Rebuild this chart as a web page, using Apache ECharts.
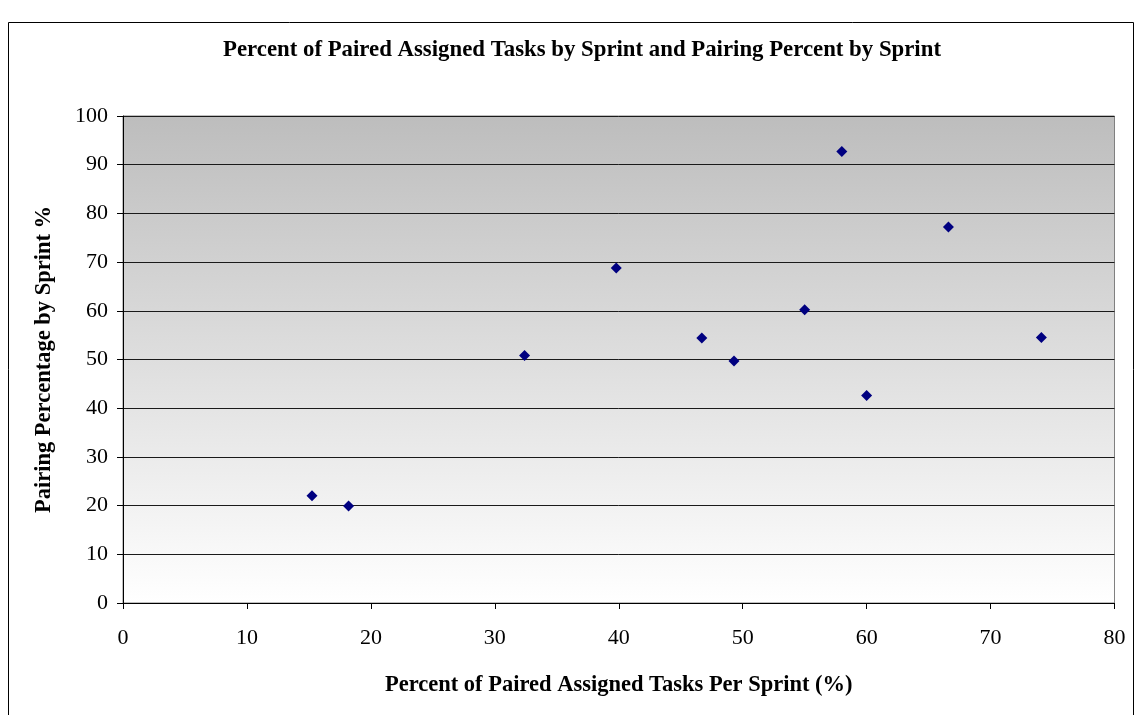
<!DOCTYPE html>
<html><head><meta charset="utf-8">
<script src="https://cdn.jsdelivr.net/npm/echarts@6/dist/echarts.min.js"></script>
<style>html,body{margin:0;padding:0;background:#fff}#c{width:1135px;height:715px}</style>
</head><body><div id="c"></div>
<script>
const xValues = [15.25, 18.2, 32.4, 39.8, 46.7, 49.3, 55.0, 58.0, 60.0, 66.6, 74.1];
const yValues = [22.0, 19.9, 50.8, 68.8, 54.4, 49.7, 60.2, 92.7, 42.6, 77.2, 54.5];
const titleText = 'Percent of Paired Assigned Tasks by Sprint and Pairing Percent by Sprint';
const xName = 'Percent of Paired Assigned Tasks Per Sprint (%)';
const yName = 'Pairing Percentage by Sprint %';

const font = '"Liberation Serif", "Times New Roman", serif';
const chart = echarts.init(document.getElementById('c'), null, {renderer: 'canvas'});
chart.setOption({
  animation: false,
  backgroundColor: '#fff',
  graphic: [
    {type: 'rect', shape: {x: 8.5, y: 22.5, width: 1125, height: 700}, style: {fill: 'none', stroke: '#000', lineWidth: 1}, z: -10},
    {type: 'rect', shape: {x: 123, y: 116, width: 991.5, height: 487}, style: {
      fill: new echarts.graphic.LinearGradient(0, 0, 0, 1, [{offset: 0, color: '#bdbdbd'}, {offset: 1, color: '#ffffff'}]),
      stroke: '#808080', lineWidth: 1}, z: -5}
  ],
  title: {
    text: titleText, left: 577, top: 34, textAlign: 'center',
    textStyle: {fontFamily: font, fontSize: 22.8, fontWeight: 'bold', color: '#000'}
  },
  grid: {left: 123, right: 20.5, top: 116, bottom: 112, containLabel: false},
  xAxis: {
    type: 'value', min: 0, max: 80, interval: 10,
    name: xName, nameLocation: 'middle', nameGap: 71,
    nameTextStyle: {fontFamily: font, fontSize: 22.5, fontWeight: 'bold', color: '#000'},
    axisLine: {show: true, lineStyle: {color: '#000', width: 1}},
    axisTick: {show: true, inside: false, length: 6, lineStyle: {color: '#000'}},
    axisLabel: {fontFamily: font, fontSize: 22, color: '#000', margin: 24},
    splitLine: {show: false}
  },
  yAxis: {
    type: 'value', min: 0, max: 100, interval: 10,
    name: yName, nameLocation: 'middle', nameGap: 67, nameRotate: 90,
    nameTextStyle: {fontFamily: font, fontSize: 22.5, fontWeight: 'bold', color: '#000'},
    axisLine: {show: true, lineStyle: {color: '#000', width: 1}},
    axisTick: {show: true, inside: false, length: 6, lineStyle: {color: '#000'}},
    axisLabel: {fontFamily: font, fontSize: 22, color: '#000', margin: 15},
    splitLine: {show: true, lineStyle: {color: '#1a1a1a', width: 1}}
  },
  series: [{
    type: 'scatter',
    symbol: 'diamond',
    symbolSize: 11,
    itemStyle: {color: '#000080', opacity: 1},
    data: xValues.map((x, i) => [x, yValues[i]])
  }]
});
</script></body></html>
